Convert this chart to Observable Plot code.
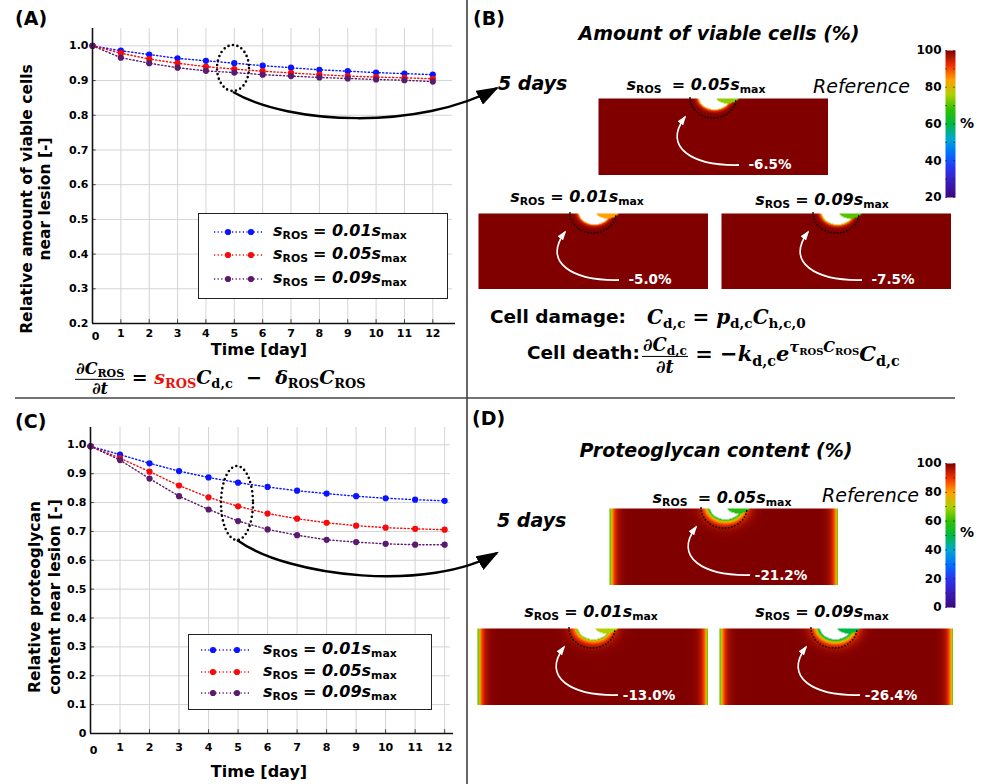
<!DOCTYPE html>
<html>
<head>
<meta charset="utf-8">
<script src="https://cdn.jsdelivr.net/npm/d3@7"></script>
<script src="https://cdn.jsdelivr.net/npm/@observablehq/plot@0.6"></script>
<style>
  html,body{margin:0;padding:0;background:#fff;}
  #fig{position:relative;width:984px;height:784px;overflow:hidden;background:#fff;font-family:"DejaVu Sans",Verdana,sans-serif;color:#000;}
  .abs{position:absolute;white-space:nowrap;line-height:1;}
  .b{font-weight:bold;}
  .bi{font-weight:bold;font-style:italic;}
  .it{font-style:italic;}
  .sb{font-style:normal;font-size:0.68em;position:relative;top:0.3em;}
  .sp{font-size:0.7em;position:relative;top:-0.62em;}
  .m{font-family:"DejaVu Serif","Liberation Serif",serif;font-weight:bold;font-style:italic;}
  .frac{display:inline-flex;flex-direction:column;align-items:center;vertical-align:middle;font-size:0.85em;}
  .frac .num{border-bottom:1.5px solid #000;padding:0 1px 1px;line-height:1.1;}
  .frac .den{line-height:1.15;}
  .legend{position:absolute;border:1.5px solid #222;background:#fff;box-sizing:border-box;}
</style>
</head>
<body>
<div id="fig"></div>
<script>
// ---------------- DATA ----------------
const days = [0, 1, 2, 3, 4, 5, 6, 7, 8, 9, 10, 11, 12];
const sRosLevels = ["0.01", "0.05", "0.09"];
// Panel A: relative amount of viable cells near lesion
const viable001 = [1.000, 0.986, 0.975, 0.964, 0.957, 0.950, 0.943, 0.937, 0.931, 0.927, 0.923, 0.920, 0.917];
const viable005 = [1.000, 0.979, 0.962, 0.950, 0.940, 0.933, 0.927, 0.922, 0.917, 0.913, 0.910, 0.908, 0.905];
const viable009 = [1.000, 0.966, 0.950, 0.937, 0.928, 0.923, 0.917, 0.913, 0.909, 0.906, 0.903, 0.901, 0.897];
// Panel C: relative proteoglycan content near lesion
const pg001 = [0.995, 0.966, 0.936, 0.909, 0.887, 0.869, 0.854, 0.841, 0.831, 0.822, 0.815, 0.810, 0.806];
const pg005 = [0.995, 0.954, 0.907, 0.859, 0.818, 0.787, 0.762, 0.744, 0.730, 0.720, 0.713, 0.709, 0.706];
const pg009 = [0.995, 0.947, 0.883, 0.822, 0.776, 0.736, 0.707, 0.687, 0.671, 0.663, 0.657, 0.654, 0.654];
// tick values and labels
const xTicks = [0, 1, 2, 3, 4, 5, 6, 7, 8, 9, 10, 11, 12];
const xTickLabels = ["0", "1", "2", "3", "4", "5", "6", "7", "8", "9", "10", "11", "12"];
const yTicksA = [0.2, 0.3, 0.4, 0.5, 0.6, 0.7, 0.8, 0.9, 1.0];
const yTickLabelsA = ["0.2", "0.3", "0.4", "0.5", "0.6", "0.7", "0.8", "0.9", "1.0"];
const yTicksC = [0, 0.1, 0.2, 0.3, 0.4, 0.5, 0.6, 0.7, 0.8, 0.9, 1.0];
const yTickLabelsC = ["0", "0.1", "0.2", "0.3", "0.4", "0.5", "0.6", "0.7", "0.8", "0.9", "1.0"];
// Panels B and D: simulation snapshots (top, bottom-left, bottom-right)
const snapshotLevels = ["0.05", "0.01", "0.09"];
const viableChange = ["-6.5%", "-5.0%", "-7.5%"];
const pgChange = ["-21.2%", "-13.0%", "-26.4%"];
const cbTicksB = [20, 40, 60, 80, 100];
const cbTicksD = [0, 20, 40, 60, 80, 100];

// ---------------- STYLE / LAYOUT ----------------
const seriesColors = ["#0a14ff", "#f80a0a", "#5a1a6e"];
const cmapStops = ["#3b0a7e","#3a1cb8","#2a35f0","#0070ff","#00a8d0","#00b840","#30c000","#b0d000","#ffa000","#f03000","#800000"];
const cmap = d3.piecewise(d3.interpolateRgb, cmapStops);
const fig = document.getElementById("fig");

function label(html, x, y, opt = {}) {
  const {anchor = "start", size = 16, cls = "", color = "#000", extra = ""} = opt;
  const d = document.createElement("div");
  d.className = "abs " + cls;
  d.innerHTML = html;
  d.style.left = x + "px"; d.style.top = y + "px";
  d.style.fontSize = size + "px"; d.style.color = color;
  const tx = anchor === "middle" ? "-50%" : anchor === "end" ? "-100%" : "0";
  d.style.transform = `translate(${tx},-50%) ${extra}`;
  fig.appendChild(d);
  return d;
}
function place(node, x, y) {
  node.style.position = "absolute"; node.style.left = x + "px"; node.style.top = y + "px";
  fig.appendChild(node); return node;
}
const sLabel = (lv, gap) => `<span class="bi">s</span><span class="sb b">ROS</span>${gap ? "&nbsp;" : ""} <span class="bi">= ${lv}s</span><span class="sb b">max</span>`;

// ---------------- LINE PANELS (A, C) ----------------
function linePanel(o) {
  const data = [];
  o.series.forEach((vals, i) => vals.forEach((v, j) => data.push({day: days[j], value: v, level: sRosLevels[i]})));
  const [x0, x1] = o.xDomain, [y0, y1] = o.yDomain;
  const svg = Plot.plot({
    width: o.W, height: o.H, marginLeft: o.mL, marginTop: o.mT, marginRight: o.mR, marginBottom: o.mB,
    x: {domain: o.xDomain, axis: null},
    y: {domain: o.yDomain, axis: null},
    color: {domain: sRosLevels, range: seriesColors},
    style: {fontFamily: '"DejaVu Sans", sans-serif', fontSize: "11px", fontWeight: "bold", background: "transparent", overflow: "visible", color: "#000"},
    marks: [
      Plot.ruleX(xTicks.slice(1), {x: d => d, y1: y0, y2: y1, stroke: "#d4d4d4", strokeWidth: 1}),
      Plot.ruleY(o.yTicks, {y: d => d, x1: x0, x2: x1 - 0.1, stroke: "#d4d4d4", strokeWidth: 1}),
      Plot.ruleX(xTicks.slice(1), {x: d => d, y1: y0, y2: y0 + o.tickY, stroke: "#444", strokeWidth: 1}),
      Plot.ruleY(o.yTicks, {y: d => d, x1: x0, x2: x0 + o.tickX, stroke: "#444", strokeWidth: 1}),
      Plot.line(data, {x: "day", y: "value", z: "level", stroke: "level", strokeWidth: 1.4, strokeDasharray: "1.2,2.4"}),
      Plot.dot(data, {x: "day", y: "value", fill: "level", r: 3.1}),
      Plot.ruleX([x0], {y1: y0, y2: y1, stroke: "#111", strokeWidth: 1.6}),
      Plot.ruleY([y0], {x1: x0, x2: x1, stroke: "#111", strokeWidth: 1.6}),
      Plot.text(o.yTicks, {x: x0, y: d => d, text: o.yLabels, textAnchor: "end", dx: -4, fill: "#000"}),
      Plot.text(xTicks.slice(1), {x: d => d, y: y0, text: xTickLabels.slice(1), dy: o.xdy, fill: "#000"}),
      Plot.text([xTicks[0]], {x: d => d, y: y0, text: [xTickLabels[0]], dy: o.xdy + 3, dx: 3, fill: "#000"})
    ]
  });
  return place(svg, o.left, o.top);
}

linePanel({series: [viable001, viable005, viable009], xDomain: [0, 12.8], yDomain: [0.2, 1.05],
  yTicks: yTicksA, yLabels: yTickLabelsA, W: 467, H: 398, mL: 92, mT: 28, mR: 12, mB: 75,
  left: 0, top: 0, xdy: 10, tickY: 0.011, tickX: 0.13});
linePanel({series: [pg001, pg005, pg009], xDomain: [0, 12.3], yDomain: [0, 1.06],
  yTicks: yTicksC, yLabels: yTickLabelsC, W: 467, H: 386, mL: 90, mT: 29, mR: 14, mB: 51,
  left: 0, top: 398, xdy: 14, tickY: 0.013, tickX: 0.13});

// legends
function legend(x, y, w, h, rowsY, sx0, sx1, dots, tx) {
  const box = document.createElement("div");
  box.className = "legend";
  box.style.left = x + "px"; box.style.top = y + "px"; box.style.width = w + "px"; box.style.height = h + "px";
  fig.appendChild(box);
  sRosLevels.forEach((lv, i) => {
    const s = d3.create("svg").attr("width", 70).attr("height", 12)
      .style("position", "absolute").style("left", "0px").style("top", (rowsY[i] - 6 - 1.5) + "px");
    s.append("line").attr("x1", sx0).attr("x2", sx1).attr("y1", 6).attr("y2", 6)
      .attr("stroke", seriesColors[i]).attr("stroke-width", 1.4).attr("stroke-dasharray", "1.2,2.4");
    dots.forEach(dx => s.append("circle").attr("cx", dx).attr("cy", 6).attr("r", 3.1).attr("fill", seriesColors[i]));
    box.appendChild(s.node());
    const t = document.createElement("div");
    t.className = "abs";
    t.style.left = tx + "px"; t.style.top = (rowsY[i] - 1.5) + "px"; t.style.fontSize = "16px";
    t.style.transform = "translate(0,-55%)";
    t.innerHTML = sLabel(lv, false);
    box.appendChild(t);
  });
}
legend(198, 213, 250, 86, [19, 42, 66], 15, 64, [29, 52], 74);
legend(188, 634, 244, 76, [16, 38, 59], 12, 60, [24, 48], 74);

// axis titles
label("Time [day]", 259, 350, {anchor: "middle", size: 16, cls: "b"});
label("Time [day]", 259, 772, {anchor: "middle", size: 16, cls: "b"});
const yt1 = label("Relative amount of viable cells<br>near lesion [-]", 36, 199, {anchor: "middle", size: 15.5, cls: "b", extra: "rotate(-90deg)"});
yt1.style.textAlign = "center"; yt1.style.lineHeight = "18px";
const yt2 = label("Relative proteoglycan<br>content near lesion [-]", 45, 597, {anchor: "middle", size: 15.5, cls: "b", extra: "rotate(-90deg)"});
yt2.style.textAlign = "center"; yt2.style.lineHeight = "20px";

// panel letters
label("(A)", 15, 18, {size: 19, cls: "b"});
label("(B)", 473, 18, {size: 19, cls: "b"});
label("(C)", 15, 421, {size: 19, cls: "b"});
label("(D)", 472, 418, {size: 19, cls: "b"});

// equations
label(`<span class="frac"><span class="num">∂<i>C</i><span class="sb">ROS</span></span><span class="den">∂<i>t</i></span></span> = <span style="color:#e8140c"><i>s</i><span class="sb">ROS</span></span><i>C</i><span class="sb">d,c</span> &nbsp;−&nbsp; <i>δ</i><span class="sb">ROS</span><i>C</i><span class="sb">ROS</span>`,
  75, 379, {size: 19, cls: "m"});
label("Cell damage:", 490, 317, {size: 18.5, cls: "b"});
label(`<i>C</i><span class="sb">d,c</span> = <i>p</i><span class="sb">d,c</span><i>C</i><span class="sb">h,c,0</span>`, 647, 317, {size: 20, cls: "m"});
label("Cell death:", 527, 353, {size: 18.5, cls: "b"});
label(`<span class="frac"><span class="num">∂<i>C</i><span class="sb">d,c</span></span><span class="den">∂<i>t</i></span></span> = −<i>k</i><span class="sb">d,c</span><i>e</i><span class="sp"><i>τ</i><span class="sb">ROS</span><i>C</i><span class="sb">ROS</span></span><i>C</i><span class="sb">d,c</span>`,
  642, 356, {size: 21, cls: "m"});

// ---------------- HEATMAP PANELS (B, D) ----------------
const heatB = {domain: [20, 100], rimScale: 1.6, sideDepth: 0, sideScale: 1,
  rim: {"0.05": 22, "0.01": 18, "0.09": 28}, flap: {"0.05": 74, "0.01": 84, "0.09": 70}};
const heatD = {domain: [0, 100], rimScale: 4, sideDepth: 45, sideScale: 3.5,
  rim: {"0.05": 50, "0.01": 38, "0.09": 58}, flap: {"0.05": 58, "0.01": 70, "0.09": 50}};
const rectsB = [{x: 598, y: 98, w: 230, h: 77}, {x: 478, y: 213, w: 230, h: 76}, {x: 721, y: 213, w: 230, h: 76}];
const rectsD = [{x: 609, y: 508, w: 229, h: 77}, {x: 477, y: 628, w: 231, h: 77}, {x: 719, y: 628, w: 234, h: 77}];
const labelPosB = [[696, 85], [577, 197], [822, 200]];
const labelPosD = [[722, 498], [591, 612], [822, 612]];
const LX = 116; // lesion centre, relative x

function field(x, y, w, hs, lv) {
  const rA = Math.hypot((x - LX) / 16, (y + 2) / 13);
  const rB = Math.hypot((x - LX - 13) / 13, (y + 4) / 9);
  let v;
  if (rB < 1) v = hs.flap[lv];
  else if (rA < 1) return NaN;
  else v = 100 - hs.rim[lv] * Math.exp(-((rA - 1) * 15) / hs.rimScale);
  if (hs.sideDepth) {
    const ds = Math.min(x, w - x);
    v = Math.min(v, 100 - hs.sideDepth * Math.exp(-ds / hs.sideScale));
  }
  return v;
}

function heatmap(r, hs, lv) {
  const svg = Plot.plot({
    width: r.w, height: r.h, margin: 0,
    x: {domain: [0, r.w], axis: null},
    y: {domain: [0, r.h], reverse: true, axis: null},
    color: {type: "linear", domain: hs.domain, interpolate: cmap, clamp: true},
    style: {background: "transparent"},
    marks: [
      Plot.raster({x1: 0, x2: r.w, y1: 0, y2: r.h, width: r.w, height: r.h,
        fill: (x, y) => field(x, y, r.w, hs, lv)})
    ]
  });
  return place(svg, r.x, r.y);
}

function colorbar(domain, ticks, left, top, barH) {
  const minor = d3.range(domain[0], domain[1] + 1, 10);
  const svg = Plot.plot({
    width: 70, height: barH + 20, marginTop: 10, marginBottom: 10, marginLeft: 35, marginRight: 25,
    x: {domain: [0, 1], axis: null},
    y: {domain: domain, axis: null},
    color: {type: "linear", domain: domain, interpolate: cmap},
    style: {fontFamily: '"DejaVu Sans", sans-serif', fontSize: "12px", fontWeight: "bold", background: "transparent", overflow: "visible"},
    marks: [
      Plot.raster({x1: 0, x2: 1, y1: domain[0], y2: domain[1], width: 1, height: 200, fill: (x, y) => y}),
      Plot.ruleY(minor, {y: d => d, x1: 0, x2: 0.2, stroke: "#222", strokeOpacity: 0.6}),
      Plot.ruleY(minor, {y: d => d, x1: 0.8, x2: 1, stroke: "#222", strokeOpacity: 0.6}),
      Plot.text(ticks, {x: 0, y: d => d, text: ticks.map(String), textAnchor: "end", dx: -4, fill: "#000"})
    ]
  });
  return place(svg, left, top);
}

snapshotLevels.forEach((lv, i) => heatmap(rectsB[i], heatB, lv));
snapshotLevels.forEach((lv, i) => heatmap(rectsD[i], heatD, lv));
colorbar([20, 100], cbTicksB, 910, 40, 147);
colorbar([0, 100], cbTicksD, 910, 453, 144);
label("%", 967, 123, {anchor: "middle", size: 14, cls: "b"});
label("%", 967, 532, {anchor: "middle", size: 14, cls: "b"});

label("Amount of viable cells (%)", 719, 33, {anchor: "middle", size: 19, cls: "bi"});
label("Proteoglycan content (%)", 716, 450, {anchor: "middle", size: 19, cls: "bi"});
label("5 days", 498, 83, {size: 19, cls: "bi"});
label("5 days", 497, 520, {size: 19, cls: "bi"});
label("Reference", 813, 86, {size: 19, cls: "it"});
label("Reference", 822, 495, {size: 19, cls: "it"});
snapshotLevels.forEach((lv, i) => {
  label(sLabel(lv, i === 0), labelPosB[i][0], labelPosB[i][1], {anchor: "middle", size: 16});
  label(sLabel(lv, i === 0), labelPosD[i][0], labelPosD[i][1], {anchor: "middle", size: 16});
  label(viableChange[i], rectsB[i].x + 172, rectsB[i].y + 67, {anchor: "middle", size: 13.5, cls: "b", color: "#fff"});
  label(pgChange[i], rectsD[i].x + 172, rectsD[i].y + 68, {anchor: "middle", size: 13.5, cls: "b", color: "#fff"});
});

// ---------------- ANNOTATION OVERLAY ----------------
const ov = d3.create("svg").attr("width", 984).attr("height", 784)
  .style("position", "absolute").style("left", "0px").style("top", "0px");
const defs = ov.append("defs");
defs.append("marker").attr("id", "ab").attr("viewBox", "0 0 10 7").attr("refX", 9).attr("refY", 3.5)
  .attr("markerWidth", 9).attr("markerHeight", 6.3).attr("orient", "auto")
  .append("path").attr("d", "M0,0 L10,3.5 L0,7 z").attr("fill", "#000");
defs.append("marker").attr("id", "aw").attr("viewBox", "0 0 10 7").attr("refX", 8).attr("refY", 3.5)
  .attr("markerWidth", 5.5).attr("markerHeight", 3.9).attr("orient", "auto")
  .append("path").attr("d", "M0,0 L10,3.5 L0,7 z").attr("fill", "#fff");
// dividers
ov.append("line").attr("x1", 467).attr("x2", 467).attr("y1", 0).attr("y2", 784).attr("stroke", "#333").attr("stroke-width", 1.5);
ov.append("line").attr("x1", 15).attr("x2", 955).attr("y1", 398).attr("y2", 398).attr("stroke", "#444").attr("stroke-width", 1.5);
// dotted ellipses in A, C
ov.append("ellipse").attr("cx", 233).attr("cy", 68).attr("rx", 16).attr("ry", 23)
  .attr("fill", "none").attr("stroke", "#000").attr("stroke-width", 2.6).attr("stroke-linecap", "round").attr("stroke-dasharray", "0,4.6");
ov.append("ellipse").attr("cx", 237).attr("cy", 503).attr("rx", 16).attr("ry", 37)
  .attr("fill", "none").attr("stroke", "#000").attr("stroke-width", 2.6).attr("stroke-linecap", "round").attr("stroke-dasharray", "0,4.6");
// black connecting arrows
ov.append("path").attr("d", "M233,92 C290,125 420,130 497,88").attr("fill", "none").attr("stroke", "#000").attr("stroke-width", 2.5).attr("marker-end", "url(#ab)");
ov.append("path").attr("d", "M237,540 C290,578 430,592 497,553").attr("fill", "none").attr("stroke", "#000").attr("stroke-width", 2.5).attr("marker-end", "url(#ab)");
// lesion rings and white arrows
[...rectsB, ...rectsD].forEach(r => {
  const cx = r.x + LX - 1, cy = r.y;
  ov.append("path").attr("d", `M${cx - 23},${cy} A23,20 0 0 0 ${cx + 23},${cy}`)
    .attr("fill", "none").attr("stroke", "#000").attr("stroke-width", 1.8).attr("stroke-linecap", "round").attr("stroke-dasharray", "0,3.2");
  ov.append("path").attr("d", `M${r.x + 141},${r.y + 67} C${r.x + 95},${r.y + 68} ${r.x + 64},${r.y + 50} ${r.x + 87},${r.y + 19}`)
    .attr("fill", "none").attr("stroke", "#fff").attr("stroke-width", 1.8).attr("marker-end", "url(#aw)");
});
fig.appendChild(ov.node());
</script>
</body>
</html>
